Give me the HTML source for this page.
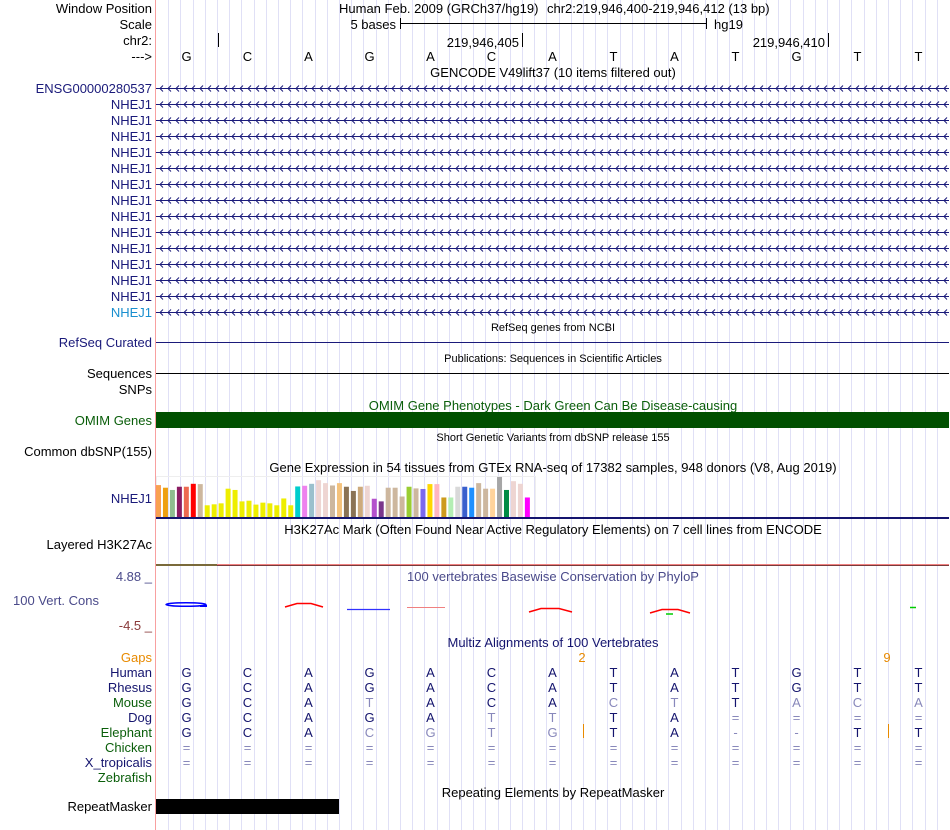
<!DOCTYPE html>
<html><head><meta charset="utf-8">
<style>
html,body{margin:0;padding:0;background:#fff;}
svg{display:block;font-family:"Liberation Sans",sans-serif;}
</style></head>
<body>
<svg id="c" width="950" height="830" viewBox="0 0 950 830" xmlns="http://www.w3.org/2000/svg">
<g id="grid"></g>
<line x1="155.5" y1="0" x2="155.5" y2="830" stroke="#f8a0a0" stroke-width="1"/>
<g id="labels" font-size="13" text-anchor="end"></g>
<g id="tracks" font-size="13"></g>
</svg>
<script>
const bases = ["G","C","A","G","A","C","A","T","A","T","G","T","T"];
const rhesus = ["G","C","A","G","A","C","A","T","A","T","G","T","T"];
const mouse = ["G","C","A","t","A","C","A","c","t","T","a","c","a"];
const dog = ["G","C","A","G","A","t","t","T","A","=","=","=","="];
const elephant = ["G","C","A","c","g","t","g","T","A","-","-","T","T"];
const chicken = ["=","=","=","=","=","=","=","=","=","=","=","=","="];
const xtrop = ["=","=","=","=","=","=","=","=","=","=","=","=","="];
const gtexValues = [32.7,30,27.7,31,31,34,33.7,12,13,14,29,27.7,16,16.7,12.7,14.7,14,12,19,12,31.3,32,34,37.7,34.7,32.3,34.7,31,26.7,31,32,18.7,16,30,30,21,31,29.3,28.7,33.7,33.7,20,20,31,31,30,34.7,29,29,41,27.7,36.7,34,20];
const gtexColors = ["#f9a050","#eea011","#8fbc8f","#8b1c62","#ee6a50","#ff0000","#cdb79e","#eeee00","#eeee00","#eeee00","#eeee00","#eeee00","#eeee00","#eeee00","#eeee00","#eeee00","#eeee00","#eeee00","#eeee00","#eeee00","#00cdcd","#ee82ee","#9ac0cd","#eed5d2","#eed5d2","#cdb79e","#f4c27c","#8b7355","#8b7355","#cdaa7d","#eed5d2","#b452cd","#7a378b","#cdb79e","#cdb79e","#cdb79e","#9acd32","#cdb79e","#7b68ee","#ffd700","#ffb6c1","#cd9b1d","#b4eeb4","#d9d9d9","#3a5fcd","#1e90ff","#cdb79e","#cdb79e","#ffd39b","#a6a6a6","#008b45","#eed5d2","#eed5d2","#ff00ff"];

const NS="http://www.w3.org/2000/svg";
const X0=156, X1=949, BW=(X1-X0)/13;
const bx = i => X0 + BW*(i+0.5);
function mk(tag, attrs, parent, txt){
  const e=document.createElementNS(NS,tag);
  for(const k in attrs) e.setAttribute(k,attrs[k]);
  if(txt!==undefined) e.textContent=txt;
  parent.appendChild(e); return e;
}
const grid=document.getElementById('grid'), L=document.getElementById('labels'), T=document.getElementById('tracks');
for(let k=1;k<65;k++){
  const x=Math.round(X0+k*BW/5)+0.5;
  const ln=mk('line',{x1:x,y1:0,x2:x,y2:830,stroke:'#e0e0f6'},grid);
  
  
}
function label(y,txt,color,name){
  const t=mk('text',{x:152,y:y,fill:color||'#000'},L,txt);
  
  
  return t;
}
function title(y,txt,color,size,name){
  const t=mk('text',{x:553,y:y,'text-anchor':'middle',fill:color||'#000','font-size':size||13},T,txt);
  
  
  return t;
}
// header
label(13,'Window Position','#000','window-position-label');
label(29,'Scale','#000','scale-label');
label(45,'chr2:','#000','chr-label');
label(61,'--->','#000','strand-label');
let t=mk('text',{x:339,y:13},T,'Human Feb. 2009 (GRCh37/hg19)');

t=mk('text',{x:547,y:13},T,'chr2:219,946,400-219,946,412 (13 bp)');

t=mk('text',{x:396,y:29,'text-anchor':'end'},T,'5 bases');

mk('path',{d:'M400.5 18v11M400.5 23.5H706.5M706.5 18v11',stroke:'#000',fill:'none'},T);
t=mk('text',{x:714,y:29},T,'hg19');
mk('path',{d:'M218.5 33v14M522.5 33v14M828.5 33v14',stroke:'#000'},T);
t=mk('text',{x:519,y:47,'text-anchor':'end'},T,'219,946,405');
t=mk('text',{x:825,y:47,'text-anchor':'end'},T,'219,946,410');
bases.forEach((b,i)=>{const e=mk('text',{x:bx(i),y:61,'text-anchor':'middle'},T,b);
  });
// GENCODE
title(77,'GENCODE V49lift37 (10 items filtered out)','#000',13,'gencode-title');
const genes=['ENSG00000280537'].concat(Array(14).fill('NHEJ1'));
genes.forEach((g,i)=>{
  const y=93+16*i;
  label(y,g,i===14?'#1a8fcf':'#1a1a7a','gene-label');
  let d='M156 '+(y-4.5)+'H949';
  for(let x=160;x<949;x+=8) d+=' M'+(x+3)+' '+(y-7.5)+'L'+x+' '+(y-4.5)+'L'+(x+3)+' '+(y-1.5);
  const p=mk('path',{d:d,stroke:'#1a1a7a',fill:'none','stroke-width':1},T);
  
});
// RefSeq
title(331,'RefSeq genes from NCBI','#000',11,'refseq-title');
label(347,'RefSeq Curated','#1a1a7a','refseq-label');
mk('line',{x1:156,y1:342.5,x2:949,y2:342.5,stroke:'#1a1a7a'},T);
title(362,'Publications: Sequences in Scientific Articles','#000',11,'publications-title');
label(378,'Sequences','#000','sequences-label');
mk('line',{x1:156,y1:373.5,x2:949,y2:373.5,stroke:'#000'},T);
label(394,'SNPs','#000','snps-label');
title(410,'OMIM Gene Phenotypes - Dark Green Can Be Disease-causing','#0a5e0a',13,'omim-title');
label(425,'OMIM Genes','#0a5e0a','omim-label');
mk('rect',{x:156,y:412,width:793,height:16,fill:'#005000'},T);
title(441,'Short Genetic Variants from dbSNP release 155','#000',11,'dbsnp-title');
label(456,'Common dbSNP(155)','#000','dbsnp-label');
// GTEx
title(472,'Gene Expression in 54 tissues from GTEx RNA-seq of 17382 samples, 948 donors (V8, Aug 2019)','#000',13,'gtex-title');
label(503,'NHEJ1','#1a1a7a','gtex-label');
mk('rect',{x:156.5,y:476.5,width:379,height:41,fill:'none',stroke:'#eeeeee'},T);
const base=517, ys=v=>base - v*(41/42);
gtexValues.forEach((v,i)=>{
  const r=mk('rect',{x:156+i*6.96,y:ys(v),width:5,height:base-ys(v),fill:gtexColors[i]},T);
  
});
mk('rect',{x:156,y:517,width:793,height:2,fill:'#14146e'},T);
// H3K27Ac
title(534,'H3K27Ac Mark (Often Found Near Active Regulatory Elements) on 7 cell lines from ENCODE','#000',13,'h3k27ac-title');
label(549,'Layered H3K27Ac','#000','h3k27ac-label');
mk('rect',{x:156,y:564,width:62,height:2,fill:'#7a6a3a'},T);
mk('rect',{x:217,y:564,width:732,height:1,fill:'#f08080'},T);
mk('rect',{x:217,y:565,width:732,height:1,fill:'#7a3a3a'},T);
// Conservation
t=mk('text',{x:152,y:581,'text-anchor':'end',fill:'#4a4a8a'},T,'4.88 _');
t=mk('text',{x:152,y:630,'text-anchor':'end',fill:'#8a3a3a'},T,'-4.5 _');
t=mk('text',{x:13,y:605,fill:'#4a4a8a'},T,'100 Vert. Cons');
title(581,'100 vertebrates Basewise Conservation by PhyloP','#4a4a8a',13,'phylop-title');
mk('ellipse',{cx:186,cy:604.5,rx:20,ry:1.8,fill:'none',stroke:'#0000ff','stroke-width':1.5},T);
mk('line',{x1:200,y1:606,x2:207,y2:606,stroke:'#0000ff','stroke-width':2},T);
mk('path',{d:'M285 607L297 603.5L311 603.5L323 607',fill:'none',stroke:'#ff0000','stroke-width':1.5},T);
mk('line',{x1:347,y1:609.5,x2:390,y2:609.5,stroke:'#3030ff','stroke-width':1.2},T);
mk('line',{x1:407,y1:607.5,x2:445,y2:607.5,stroke:'#f08080'},T);
mk('path',{d:'M529 612L541 608.5L559 608.5L572 612',fill:'none',stroke:'#ff0000','stroke-width':1.5},T);
mk('path',{d:'M650 613L662 609.5L678 609.5L690 613',fill:'none',stroke:'#ff0000','stroke-width':1.5},T);
mk('line',{x1:666,y1:614,x2:673,y2:614,stroke:'#00cc00','stroke-width':1.5},T);
mk('line',{x1:910,y1:607.5,x2:916,y2:607.5,stroke:'#00cc00','stroke-width':1.5},T);
// Multiz
title(647,'Multiz Alignments of 100 Vertebrates','#14146e',13,'multiz-title');
const species=[['Gaps','#e88a00'],['Human','#14146e'],['Rhesus','#14146e'],['Mouse','#0a5e0a'],['Dog','#14146e'],['Elephant','#0a5e0a'],['Chicken','#0a5e0a'],['X_tropicalis','#14146e'],['Zebrafish','#0a5e0a']];
species.forEach((s,i)=>label(662+15*i,s[0],s[1],'species-label'));
t=mk('text',{x:582,y:662,'text-anchor':'middle',fill:'#e88a00'},T,'2');
t=mk('text',{x:887,y:662,'text-anchor':'middle',fill:'#e88a00'},T,'9');
const rows=[bases,rhesus,mouse,dog,elephant,chicken,xtrop];
rows.forEach((r,ri)=>{
  const y=677+15*ri;
  r.forEach((c,i)=>{
    const light=(c===c.toLowerCase());
    const e=mk('text',{x:bx(i),y:y,'text-anchor':'middle',fill:light?'#8888bb':'#14146e'},T,c.toUpperCase());
    
  });
});
mk('path',{d:'M583.5 724v14M888.5 724v14',stroke:'#e88a00'},T);
// RepeatMasker
title(797,'Repeating Elements by RepeatMasker','#000',13,'repeatmasker-title');
label(811,'RepeatMasker','#000','repeatmasker-label');
mk('rect',{x:156,y:799,width:183,height:15,fill:'#000'},T);
</script>
</body></html>
